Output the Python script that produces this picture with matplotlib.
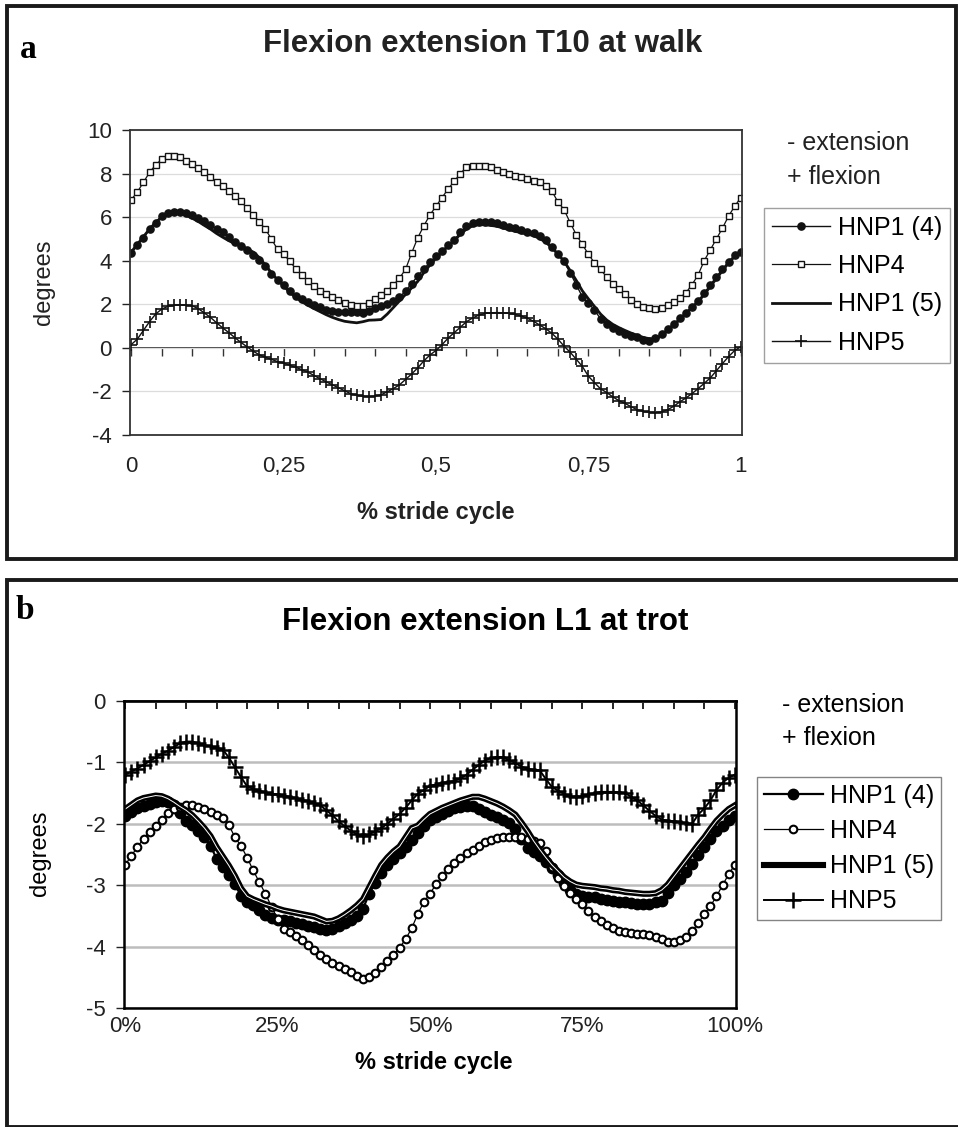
import numpy as np
import matplotlib
matplotlib.use("Agg")
import matplotlib.pyplot as plt
from matplotlib.patches import Rectangle

plt.rcParams['font.family'] = ['Liberation Sans', 'DejaVu Sans']
plt.rcParams['axes.unicode_minus'] = False

# stride cycle in 1 % steps (0 .. 1)
stride = np.arange(101) / 100.0

series_names = ["HNP1 (4)", "HNP4", "HNP1 (5)", "HNP5"]

# ---- a: flexion extension T10 at walk (degrees) ----
walk_hnp1_4 = [4.35, 4.70, 5.05, 5.45, 5.75, 6.05, 6.20, 6.25, 6.25, 6.17,
               6.08, 5.98, 5.82, 5.65, 5.46, 5.30, 5.10, 4.88, 4.67, 4.48,
               4.28, 4.05, 3.78, 3.38, 3.12, 2.88, 2.60, 2.38, 2.22, 2.10,
               1.98, 1.86, 1.76, 1.68, 1.66, 1.66, 1.66, 1.64, 1.60, 1.70,
               1.82, 1.92, 2.02, 2.15, 2.33, 2.60, 2.95, 3.30, 3.62, 3.92,
               4.22, 4.45, 4.72, 4.95, 5.30, 5.58, 5.72, 5.78, 5.78, 5.76,
               5.72, 5.62, 5.56, 5.48, 5.41, 5.34, 5.26, 5.12, 4.95, 4.65,
               4.33, 3.98, 3.45, 2.90, 2.35, 2.05, 1.75, 1.32, 1.10, 0.93,
               0.78, 0.65, 0.55, 0.48, 0.38, 0.32, 0.45, 0.62, 0.88, 1.10,
               1.35, 1.62, 1.88, 2.15, 2.50, 2.90, 3.25, 3.62, 3.95, 4.25,
               4.42]
walk_hnp4 = [6.80, 7.15, 7.60, 8.05, 8.40, 8.65, 8.80, 8.82, 8.76, 8.60,
             8.45, 8.27, 8.05, 7.85, 7.63, 7.45, 7.22, 6.95, 6.72, 6.42,
             6.10, 5.80, 5.45, 5.00, 4.52, 4.30, 3.98, 3.63, 3.35, 3.06,
             2.86, 2.62, 2.47, 2.33, 2.18, 2.07, 1.97, 1.90, 1.92, 2.08,
             2.25, 2.42, 2.63, 2.88, 3.20, 3.60, 4.35, 5.05, 5.60, 6.10,
             6.50, 6.90, 7.30, 7.65, 8.00, 8.30, 8.36, 8.37, 8.37, 8.30,
             8.17, 8.07, 7.98, 7.90, 7.83, 7.75, 7.68, 7.60, 7.45, 7.20,
             6.70, 6.35, 5.75, 5.20, 4.75, 4.30, 3.90, 3.60, 3.25, 2.95,
             2.70, 2.45, 2.20, 2.00, 1.88, 1.83, 1.80, 1.82, 1.95, 2.10,
             2.30, 2.53, 2.90, 3.35, 4.00, 4.50, 5.00, 5.50, 6.05, 6.50,
             6.90]
walk_hnp1_5 = [4.40, 4.75, 5.10, 5.45, 5.75, 6.00, 6.15, 6.20, 6.18, 6.08,
               5.95, 5.80, 5.62, 5.45, 5.25, 5.08, 4.92, 4.78, 4.68, 4.55,
               4.40, 4.15, 3.80, 3.45, 3.12, 2.85, 2.55, 2.32, 2.12, 1.95,
               1.80, 1.66, 1.52, 1.40, 1.30, 1.22, 1.18, 1.15, 1.20, 1.27,
               1.28, 1.30, 1.55, 1.85, 2.15, 2.45, 2.75, 3.05, 3.45, 3.80,
               4.12, 4.40, 4.68, 4.92, 5.22, 5.45, 5.60, 5.65, 5.65, 5.62,
               5.58, 5.50, 5.42, 5.35, 5.28, 5.22, 5.15, 5.02, 4.85, 4.60,
               4.30, 3.98, 3.55, 3.10, 2.62, 2.25, 1.90, 1.55, 1.28, 1.08,
               0.93, 0.80, 0.68, 0.58, 0.48, 0.42, 0.40, 0.55, 0.80, 1.05,
               1.30, 1.58, 1.85, 2.12, 2.45, 2.82, 3.18, 3.55, 3.90, 4.20,
               4.40]
walk_hnp5 = [0.15, 0.40, 0.80, 1.20, 1.55, 1.78, 1.90, 1.95, 1.97, 1.96,
             1.93, 1.80, 1.60, 1.40, 1.15, 0.92, 0.70, 0.47, 0.25, 0.05,
             -0.15, -0.32, -0.43, -0.53, -0.63, -0.70, -0.80, -0.90, -1.00, -1.12,
             -1.27, -1.42, -1.56, -1.70, -1.83, -1.97, -2.10, -2.18, -2.22, -2.24,
             -2.22, -2.15, -2.02, -1.87, -1.70, -1.45, -1.20, -0.92, -0.60, -0.33,
             -0.12, 0.15, 0.45, 0.70, 0.95, 1.20, 1.37, 1.50, 1.58, 1.61,
             1.62, 1.61, 1.58, 1.54, 1.46, 1.36, 1.22, 1.05, 0.88, 0.67,
             0.40, 0.08, -0.20, -0.52, -0.85, -1.30, -1.60, -1.88, -2.05, -2.25,
             -2.42, -2.55, -2.70, -2.84, -2.92, -2.96, -2.97, -2.94, -2.84, -2.68,
             -2.48, -2.30, -2.10, -1.87, -1.63, -1.38, -1.05, -0.72, -0.40, -0.12,
             0.05]

# ---- b: flexion extension L1 at trot (degrees) ----
trot_hnp1_4 = [-1.87, -1.81, -1.75, -1.71, -1.68, -1.65, -1.63, -1.64, -1.69, -1.82,
               -1.95, -2.02, -2.11, -2.22, -2.36, -2.57, -2.70, -2.83, -2.98, -3.18,
               -3.28, -3.33, -3.41, -3.48, -3.53, -3.56, -3.57, -3.59, -3.61, -3.63,
               -3.66, -3.68, -3.71, -3.73, -3.72, -3.66, -3.61, -3.56, -3.50, -3.38,
               -3.15, -2.96, -2.80, -2.67, -2.57, -2.48, -2.37, -2.27, -2.15, -2.03,
               -1.94, -1.89, -1.84, -1.79, -1.75, -1.72, -1.71, -1.71, -1.76, -1.81,
               -1.85, -1.89, -1.94, -1.99, -2.08, -2.25, -2.40, -2.46, -2.52, -2.62,
               -2.72, -2.84, -2.97, -3.08, -3.15, -3.17, -3.19, -3.20, -3.22, -3.24,
               -3.26, -3.27, -3.28, -3.29, -3.30, -3.30, -3.30, -3.28, -3.25, -3.12,
               -3.00, -2.90, -2.79, -2.65, -2.51, -2.38, -2.24, -2.12, -2.03, -1.94,
               -1.87]
trot_hnp4 = [-2.67, -2.52, -2.38, -2.24, -2.13, -2.03, -1.93, -1.83, -1.76, -1.72,
             -1.70, -1.69, -1.73, -1.76, -1.80, -1.85, -1.90, -2.02, -2.22, -2.36,
             -2.55, -2.76, -2.95, -3.14, -3.35, -3.55, -3.71, -3.77, -3.83, -3.90,
             -3.97, -4.06, -4.13, -4.20, -4.26, -4.31, -4.36, -4.42, -4.48, -4.52,
             -4.50, -4.43, -4.33, -4.23, -4.13, -4.02, -3.88, -3.70, -3.47, -3.27,
             -3.14, -2.98, -2.85, -2.73, -2.64, -2.56, -2.48, -2.42, -2.36, -2.30,
             -2.26, -2.23, -2.22, -2.21, -2.21, -2.22, -2.25, -2.28, -2.32, -2.45,
             -2.70, -2.88, -3.02, -3.13, -3.22, -3.31, -3.42, -3.52, -3.59, -3.65,
             -3.70, -3.74, -3.77, -3.78, -3.79, -3.80, -3.81, -3.84, -3.88, -3.92,
             -3.92, -3.90, -3.84, -3.75, -3.62, -3.47, -3.34, -3.18, -3.00, -2.82,
             -2.67]
trot_hnp1_5 = [-1.76, -1.69, -1.62, -1.58, -1.56, -1.54, -1.55, -1.59, -1.65, -1.72,
               -1.78, -1.86, -1.96, -2.07, -2.20, -2.38, -2.53, -2.68, -2.85, -3.05,
               -3.18, -3.23, -3.27, -3.31, -3.34, -3.38, -3.41, -3.43, -3.45, -3.47,
               -3.49, -3.51, -3.55, -3.59, -3.58, -3.54, -3.48, -3.41, -3.33, -3.23,
               -3.04, -2.85, -2.67, -2.55, -2.45, -2.37, -2.22, -2.07, -2.03, -1.93,
               -1.84, -1.79, -1.74, -1.70, -1.66, -1.62, -1.59, -1.56, -1.56, -1.59,
               -1.63, -1.67, -1.72, -1.78, -1.85, -1.98, -2.12, -2.28, -2.42, -2.55,
               -2.67, -2.77, -2.87, -2.94, -2.99, -3.01, -3.02, -3.03, -3.05, -3.06,
               -3.08, -3.09, -3.11, -3.12, -3.13, -3.14, -3.14, -3.13, -3.08, -2.99,
               -2.86, -2.73, -2.60, -2.47, -2.34, -2.22, -2.08, -1.95, -1.85, -1.76,
               -1.70]
trot_hnp5 = [-1.20, -1.15, -1.10, -1.04, -0.98, -0.92, -0.86, -0.81, -0.75, -0.69,
             -0.66, -0.66, -0.69, -0.72, -0.74, -0.76, -0.79, -0.92, -1.08, -1.24,
             -1.39, -1.43, -1.46, -1.49, -1.51, -1.52, -1.54, -1.56, -1.58, -1.61,
             -1.63, -1.66, -1.70, -1.78, -1.86, -1.96, -2.04, -2.11, -2.17, -2.20,
             -2.17, -2.12, -2.07, -2.00, -1.92, -1.84, -1.74, -1.62, -1.51, -1.45,
             -1.38, -1.36, -1.33, -1.32, -1.30, -1.26, -1.20, -1.12, -1.04, -0.97,
             -0.93, -0.91, -0.92, -0.96, -1.01, -1.07, -1.10, -1.12, -1.13, -1.27,
             -1.40, -1.46, -1.51, -1.55, -1.56, -1.55, -1.52, -1.50, -1.48, -1.48,
             -1.48, -1.49, -1.50, -1.56, -1.62, -1.70, -1.79, -1.87, -1.93, -1.95,
             -1.96, -1.97, -1.99, -2.00, -1.85, -1.75, -1.62, -1.45, -1.33, -1.25,
             -1.20]

walk_xticks = [0, 0.25, 0.5, 0.75, 1]
walk_xlabels = ["0", "0,25", "0,5", "0,75", "1"]
trot_xlabels = ["0%", "25%", "50%", "75%", "100%"]

W, H = 958.0, 1127.0


def fx(px):
    return px / W


def fy(py):
    return 1 - py / H


fig = plt.figure(figsize=(W / 100, H / 100), dpi=100)

# outer frames of the two panels
fig.add_artist(Rectangle((fx(6.5), fy(559)), fx(956) - fx(6.5), fy(5.5) - fy(559),
                         transform=fig.transFigure, fill=False, lw=2.8, ec='#1a1a1a'))
fig.add_artist(Rectangle((fx(6.5), fy(1127)), fx(990) - fx(6.5), fy(580) - fy(1127),
                         transform=fig.transFigure, fill=False, lw=2.8, ec='#1a1a1a'))


def style_axes(ax, grid_color, grid_lw, spine_color, spine_lw):
    for s in ax.spines.values():
        s.set_color(spine_color)
        s.set_linewidth(spine_lw)
    ax.yaxis.grid(True, color=grid_color, lw=grid_lw)
    ax.set_axisbelow(True)
    ax.set_xlim(-0.002, 1.002)
    ax.tick_params(axis='y', direction='out', length=6, width=1, labelsize=16,
                   pad=7, colors='#222222')
    ax.tick_params(axis='x', length=0, labelsize=16, colors='#222222')


# ---------------- panel a ----------------
ax = fig.add_axes([fx(130), fy(435), fx(742) - fx(130), fy(130) - fy(435)])
ax.plot(stride, walk_hnp1_4, color='#111111', lw=1.0, marker='o', ms=5.2,
        mfc='#111111', mec='#111111', label=series_names[0])
ax.plot(stride, walk_hnp4, color='#111111', lw=0.9, marker='s', ms=5.0,
        mfc='white', mec='#111111', mew=1.0, label=series_names[1])
ax.plot(stride, walk_hnp1_5, color='#111111', lw=2.0, label=series_names[2])
ax.plot(stride, walk_hnp5, color='#111111', lw=1.0, marker='+', ms=9, mew=1.2,
        label=series_names[3])
style_axes(ax, '#dcdcdc', 0.9, '#333333', 1.3)
ax.set_ylim(-4, 10)
ax.set_yticks(np.arange(-4, 11, 2))
ax.set_xticks(walk_xticks)
ax.set_xticklabels(walk_xlabels)
ax.tick_params(axis='x', pad=15)
# category axis crossing at 0
zero = ax.secondary_xaxis(4 / 14)
zero.set_xticks(np.arange(0, 1.001, 0.05))
zero.tick_params(direction='out', length=6, width=1, labelbottom=False, colors='#333333')
zero.spines['bottom'].set_color('#333333')
zero.spines['bottom'].set_linewidth(1.3)

leg = ax.legend(loc='upper left', bbox_to_anchor=(fx(764), fy(208)),
                bbox_transform=fig.transFigure, fontsize=18, frameon=True,
                fancybox=False, edgecolor='#888888', borderpad=0.3,
                labelspacing=0.58, handlelength=2.35, handletextpad=0.3,
                borderaxespad=0)
leg.get_frame().set_linewidth(1.0)

fig.text(fx(20), fy(58), "a", family='Liberation Serif', fontweight='bold',
         fontsize=24, ha='left', va='baseline')
fig.text(fx(483), fy(44), "Flexion extension T10 at walk", fontsize=22.5,
         fontweight='bold', ha='center', va='center', color='#222222')
fig.text(fx(44), fy(282), "degrees", fontsize=17, rotation=90,
         ha='center', va='center', color='#222222')
fig.text(fx(436), fy(512), "% stride cycle", fontsize=17, fontweight='bold',
         ha='center', va='center', color='#222222')
fig.text(fx(787), fy(143), "- extension", fontsize=18, va='center', color='#222222')
fig.text(fx(787), fy(177), "+ flexion", fontsize=18, va='center', color='#222222')

# ---------------- panel b ----------------
bx = fig.add_axes([fx(124), fy(1008), fx(736) - fx(124), fy(701) - fy(1008)])
bx.plot(stride, trot_hnp1_4, color='k', lw=1.6, marker='o', ms=7.5,
        mfc='k', mec='k', label=series_names[0])
bx.plot(stride, trot_hnp4, color='k', lw=0.9, marker='o', ms=5.5,
        mfc='white', mec='k', mew=1.5, label=series_names[1])
bx.plot(stride, trot_hnp1_5, color='k', lw=4.4, label=series_names[2])
bx.plot(stride, trot_hnp1_5, color='white', lw=0.7, label='_nolegend_')
bx.plot(stride, trot_hnp5, color='k', lw=1.4, marker='+', ms=11, mew=1.8,
        label=series_names[3])
style_axes(bx, '#bdbdbd', 1.8, 'black', 1.8)
bx.set_ylim(-5, 0)
bx.set_yticks(np.arange(-5, 1, 1))
bx.set_xticks(walk_xticks)
bx.set_xticklabels(trot_xlabels)
bx.tick_params(axis='x', pad=6)
top = bx.secondary_xaxis('top')
top.set_xticks(np.arange(0, 1.001, 0.05))
top.tick_params(direction='in', length=6, width=1.2, labeltop=False)
top.spines['top'].set_linewidth(1.8)

leg = bx.legend(loc='upper left', bbox_to_anchor=(fx(757), fy(777)),
                bbox_transform=fig.transFigure, fontsize=18, frameon=True,
                fancybox=False, edgecolor='#666666', borderpad=0.27,
                labelspacing=0.45, handlelength=2.35, handletextpad=0.3,
                borderaxespad=0)
leg.get_frame().set_linewidth(1.0)

fig.text(fx(16), fy(619), "b", family='Liberation Serif', fontweight='bold',
         fontsize=24, ha='left', va='baseline')
fig.text(fx(485), fy(622), "Flexion extension L1 at trot", fontsize=22.5,
         fontweight='bold', ha='center', va='center')
fig.text(fx(40), fy(853), "degrees", fontsize=17, rotation=90,
         ha='center', va='center')
fig.text(fx(434), fy(1063), "% stride cycle", fontsize=17, fontweight='bold',
         ha='center', va='center')
fig.text(fx(782), fy(705), "- extension", fontsize=18, va='center')
fig.text(fx(782), fy(738), "+ flexion", fontsize=18, va='center')

fig.savefig("out.png", dpi=100)
